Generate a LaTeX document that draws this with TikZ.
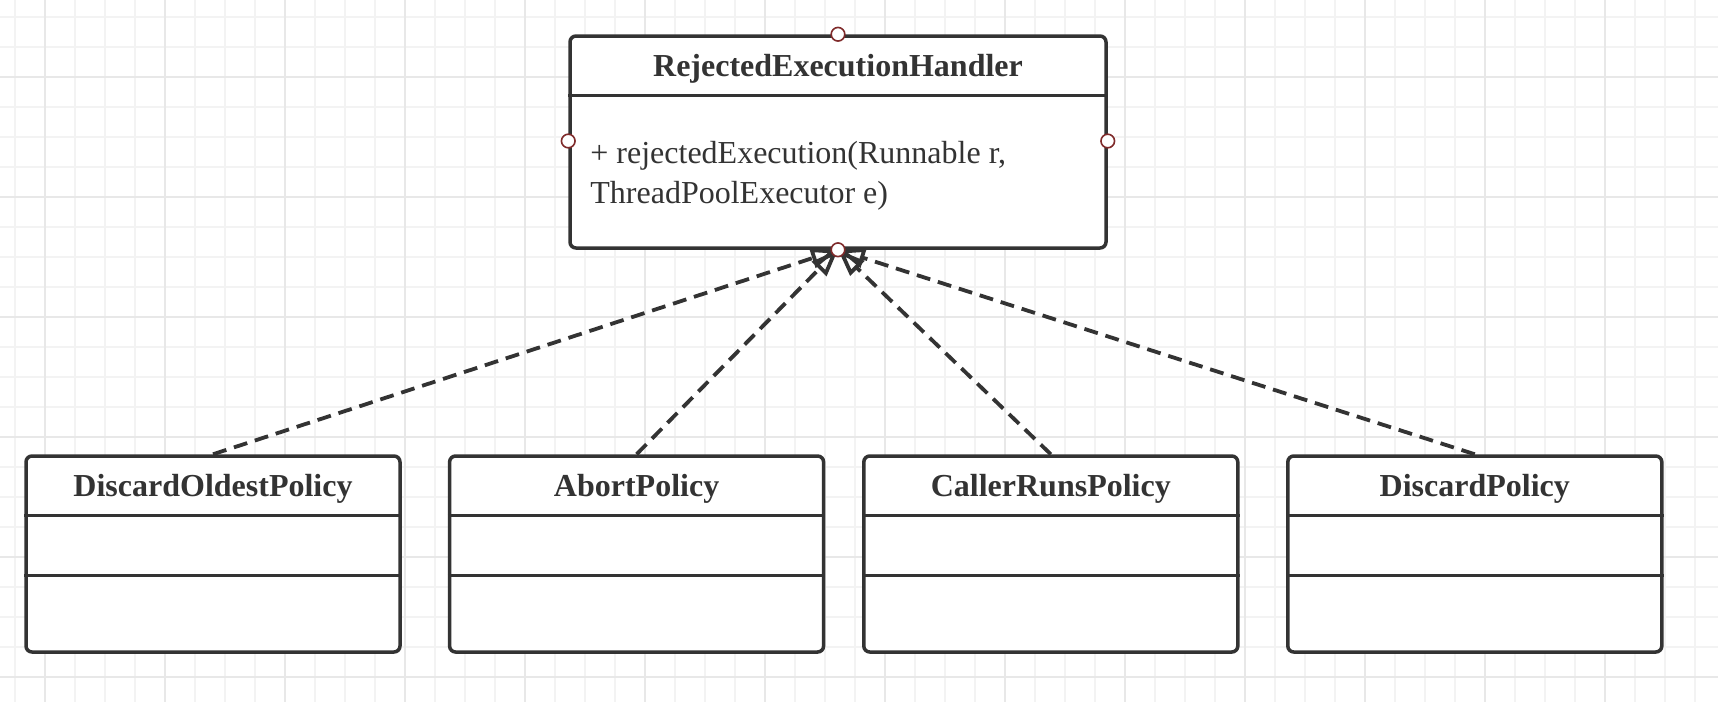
\documentclass[tikz,border=0pt]{standalone}
\usepackage{fontspec}
\setmainfont{Liberation Serif}
\usetikzlibrary{arrows.meta,calc}
\definecolor{ink}{HTML}{333333}
\definecolor{gridminor}{HTML}{F3F3F3}
\definecolor{gridmajor}{HTML}{E8E8E8}
\definecolor{portred}{HTML}{7F2A2A}
\tikzset{
  umlbox/.style={draw=ink, line width=1.75pt, rounded corners=3pt, fill=white, inner sep=0pt},
  divider/.style={draw=ink, line width=1.75pt},
  titletext/.style={font=\bfseries\fontsize{16}{19.5}\selectfont, text=ink, anchor=base, inner sep=0pt},
  bodytext/.style={font=\fontsize{16}{19.5}\selectfont, text=ink, anchor=base west, inner sep=0pt},
  port/.style={circle, draw=portred, line width=0.8pt, fill=white, minimum size=6.8pt, inner sep=0pt},
  realize/.style={draw=ink, line width=1.9pt, dash pattern=on 7pt off 4pt, -{Triangle[open, length=13.5pt, width=10pt]}},
}
\begin{document}
\begin{tikzpicture}[x=0.5pt,y=-0.5pt]
\useasboundingbox (0,0) rectangle (1718,702);
\fill[white] (0,0) rectangle (1718,702);
% grid
\foreach \x in {15,45,...,1718} \draw[gridminor, line width=0.8pt] (\x,0) -- (\x,702);
\foreach \y in {17,47,...,702} \draw[gridminor, line width=0.8pt] (0,\y) -- (1718,\y);
\foreach \x in {45,165,...,1718} \draw[gridmajor, line width=0.8pt] (\x,0) -- (\x,702);
\foreach \y in {77,197,...,702} \draw[gridmajor, line width=0.8pt] (0,\y) -- (1718,\y);

% top interface box
\node[umlbox, minimum width=268pt, minimum height=106pt] (top) at (838,142) {};
\draw[divider] ($(top.north west)+(0,61)$) -- ($(top.north east)+(0,61)$);
\node[titletext] (toptitle) at (838,76.5) {RejectedExecutionHandler};
\node[bodytext] (m1) at (590,163) {+ rejectedExecution(Runnable r,};
\node[bodytext] (m2) at (590,203) {ThreadPoolExecutor e)};

% bottom boxes
\foreach \n/\cx/\t in {b1/213/DiscardOldestPolicy, b2/636.6/AbortPolicy, b3/1050.8/CallerRunsPolicy, b4/1474.8/DiscardPolicy}{
  \node[umlbox, minimum width=187pt, minimum height=98pt] (\n) at (\cx,554) {};
  \draw[divider] ($(\n.north west)+(0,61)$) -- ($(\n.north east)+(0,61)$);
  \draw[divider] ($(\n.north west)+(0,121)$) -- ($(\n.north east)+(0,121)$);
  \node[titletext] (\n t) at (\cx,496.5) {\t};
}

% realization arrows
\draw[realize] (b1.north) -- (top.south);
\draw[realize] (b2.north) -- (top.south);
\draw[realize] (b3.north) -- (top.south);
\draw[realize] (b4.north) -- (top.south);

% ports
\node[port] (pn) at (top.north) {};
\node[port] (pw) at ($(top.west)+(0,-1)$) {};
\node[port] (pe) at ($(top.east)+(0,-1)$) {};
\node[port] (ps) at (top.south) {};
\end{tikzpicture}
\end{document}
